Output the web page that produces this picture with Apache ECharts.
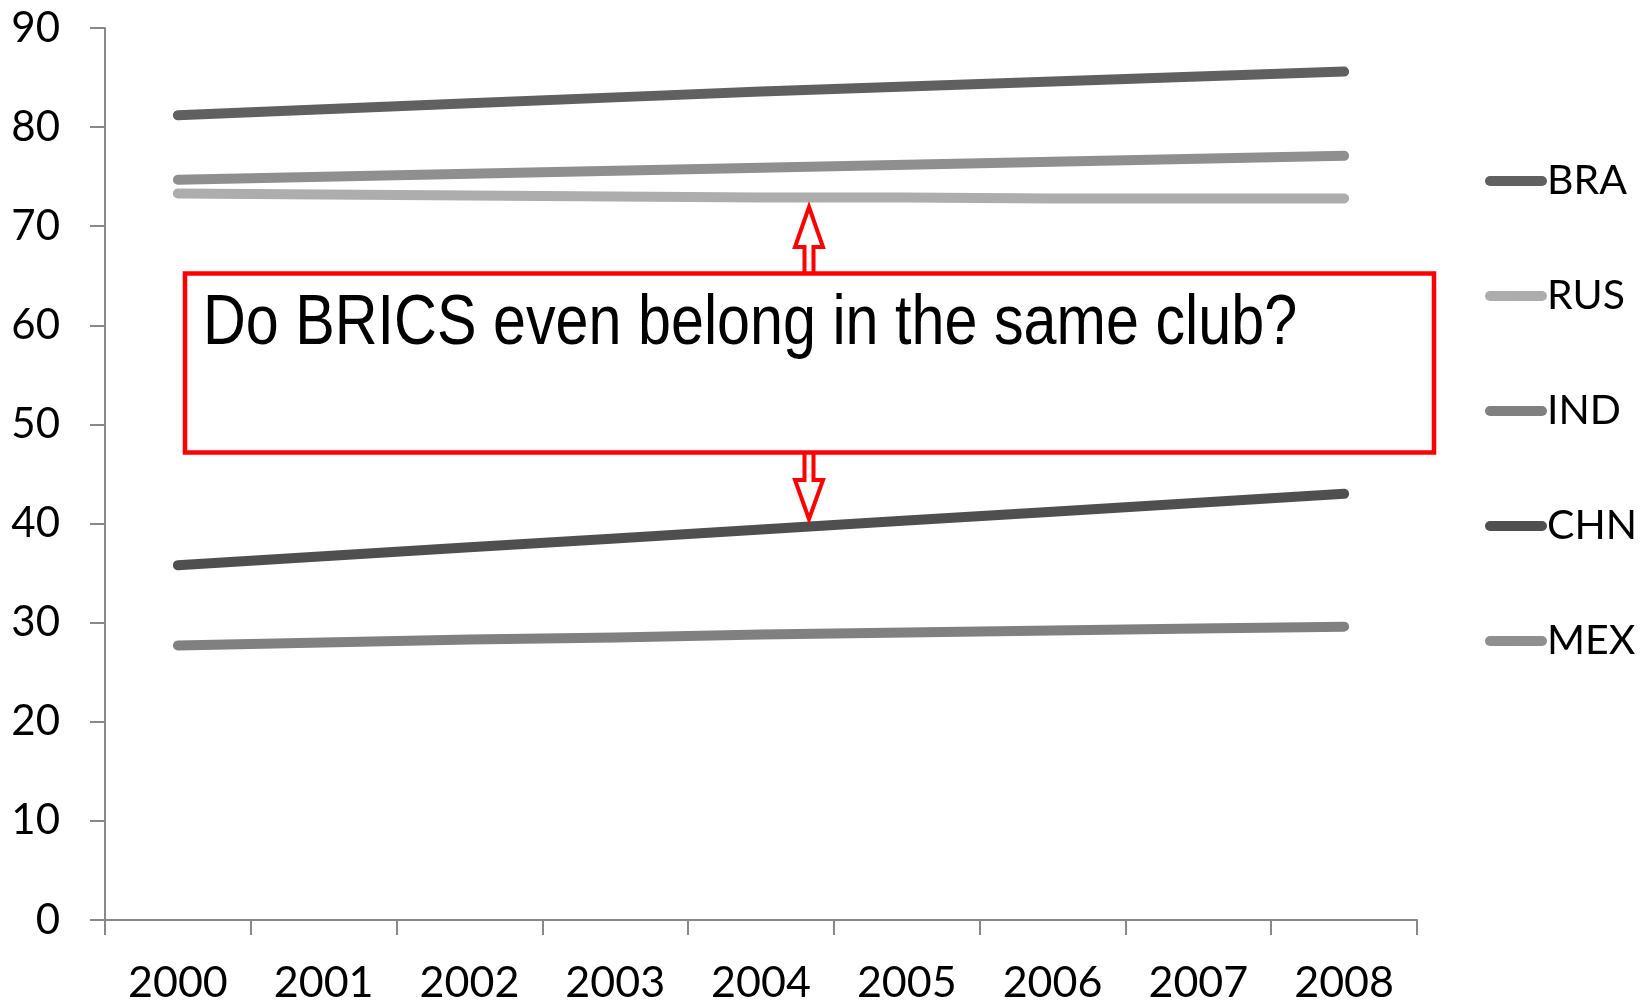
<!DOCTYPE html>
<html>
<head>
<meta charset="utf-8">
<script src="https://cdn.jsdelivr.net/npm/echarts@6/dist/echarts.min.js"></script>
<style>
  html, body { margin: 0; padding: 0; background: #fff; }
  #chart { width: 1647px; height: 1001px; }
</style>
</head>
<body>
<div id="chart"></div>
<script>
// years on the category axis
const years = ["2000", "2001", "2002", "2003", "2004", "2005", "2006", "2007", "2008"];

// values
const BRA = [81.2, 81.8, 82.4, 83.0, 83.6, 84.1, 84.6, 85.1, 85.6];
const RUS = [73.3, 73.2, 73.1, 73.0, 72.9, 72.9, 72.8, 72.8, 72.8];
const IND = [27.7, 28.0, 28.3, 28.5, 28.8, 29.0, 29.2, 29.4, 29.6];
const CHN = [35.8, 36.7, 37.6, 38.5, 39.4, 40.3, 41.2, 42.1, 43.0];
const MEX = [74.7, 75.0, 75.3, 75.6, 75.9, 76.2, 76.5, 76.8, 77.1];

const seriesList = [
  { name: "BRA", data: BRA, color: "#606060" },
  { name: "RUS", data: RUS, color: "#adadad" },
  { name: "IND", data: IND, color: "#808080" },
  { name: "CHN", data: CHN, color: "#4f4f4f" },
  { name: "MEX", data: MEX, color: "#8f8f8f" },
];

const note = "Do BRICS even belong in the same club?";

const axisGray = "#888888";
const font = "Lato";

// hollow block arrow, tip at (cx, tipY), stem ending at stemY
function arrow(cx, tipY, baseY, stemY) {
  const hw = 14; // head half width
  const sw = 4.5; // stem half width
  return [
    [cx, tipY], [cx + hw, baseY], [cx + sw, baseY], [cx + sw, stemY],
    [cx - sw, stemY], [cx - sw, baseY], [cx - hw, baseY],
  ];
}

const option = {
  animation: false,
  backgroundColor: "#ffffff",
  grid: {
    left: 105,
    right: 230,
    top: 28,
    bottom: 81,
    outerBoundsMode: "none",
  },
  legend: {
    orient: "vertical",
    left: 1485,
    top: 160,
    padding: 0,
    itemWidth: 52,
    itemHeight: 10,
    itemGap: 73,
    data: seriesList.map((s) => s.name),
    lineStyle: { width: 10, cap: "round" },
    textStyle: {
      fontFamily: font,
      fontSize: 41,
      lineHeight: 42,
      color: "#000",
    },
  },
  xAxis: {
    type: "category",
    data: years,
    boundaryGap: true,
    axisLine: { show: true, lineStyle: { color: axisGray, width: 2 } },
    axisTick: { show: true, length: 15, lineStyle: { color: axisGray, width: 2 } },
    axisLabel: {
      margin: 42,
      fontFamily: font,
      fontSize: 43,
      color: "#000",
      interval: 0,
    },
    splitLine: { show: false },
  },
  yAxis: {
    type: "value",
    min: 0,
    max: 90,
    interval: 10,
    axisLine: { show: true, lineStyle: { color: axisGray, width: 2 } },
    axisTick: { show: true, length: 15, lineStyle: { color: axisGray, width: 2 } },
    axisLabel: {
      margin: 45,
      fontFamily: font,
      fontSize: 42,
      color: "#000",
    },
    splitLine: { show: false },
  },
  series: seriesList.map((s) => ({
    name: s.name,
    type: "line",
    data: s.data,
    symbol: "none",
    showSymbol: false,
    color: s.color,
    lineStyle: { color: s.color, width: 10, cap: "round", join: "round" },
  })),
  graphic: [
    {
      type: "polygon",
      z: 100,
      shape: { points: arrow(809, 207, 247, 274) },
      style: { fill: "#fff", stroke: "#ff0000", lineWidth: 4 },
    },
    {
      type: "polygon",
      z: 100,
      shape: { points: arrow(809, 519, 480, 452) },
      style: { fill: "#fff", stroke: "#ff0000", lineWidth: 4 },
    },
    {
      type: "rect",
      z: 101,
      shape: { x: 185, y: 273.5, width: 1249, height: 179 },
      style: { fill: "#fff", stroke: "#ff0000", lineWidth: 4.5 },
    },
    {
      type: "text",
      z: 102,
      x: 203,
      y: 324,
      scaleX: 0.835,
      style: {
        text: note,
        fontFamily: "Liberation Sans",
        fontSize: 71,
        fill: "#000",
        verticalAlign: "middle",
        align: "left",
      },
    },
  ],
};

const chart = echarts.init(document.getElementById("chart"));
chart.setOption(option);
</script>
</body>
</html>
